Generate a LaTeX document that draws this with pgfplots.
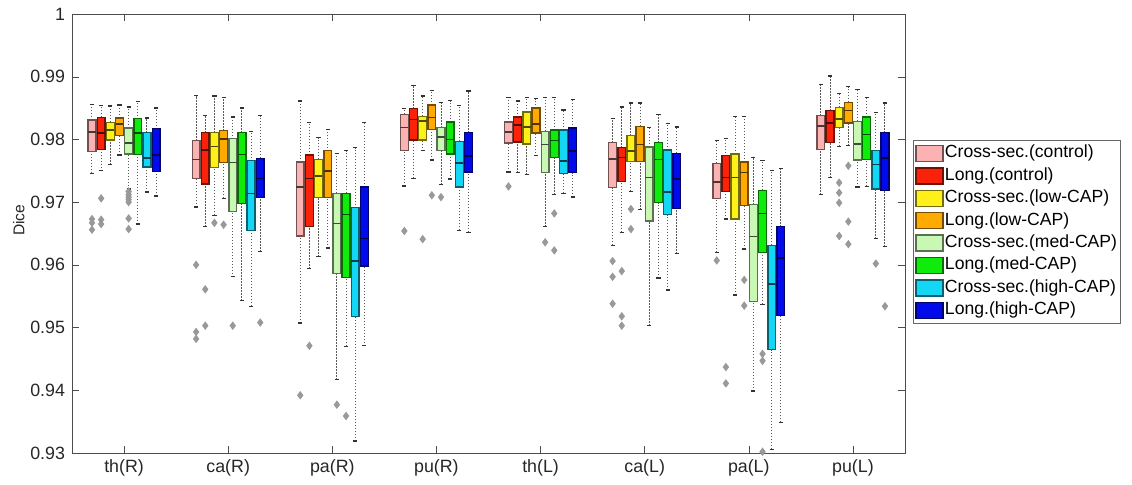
\documentclass[border=0pt]{standalone}
\usepackage{fontspec}
\setmainfont{Liberation Sans}
\usepackage{pgfplots}
\pgfplotsset{compat=1.18}

\definecolor{cA}{RGB}{250,178,178}
\definecolor{cB}{RGB}{250,35,10}
\definecolor{cC}{RGB}{255,240,25}
\definecolor{cD}{RGB}{255,170,0}
\definecolor{cE}{RGB}{200,248,180}
\definecolor{cF}{RGB}{15,235,10}
\definecolor{cG}{RGB}{20,215,245}
\definecolor{cH}{RGB}{0,10,235}

\pgfplotsset{
  wsk/.style={black!65, dash pattern=on 0.6pt off 0.9pt, line width=0.5pt, forget plot},
  cap/.style={black!80, line width=0.7pt, forget plot},
  outl/.style={only marks, mark=diamond*, mark size=1.8pt,
    mark options={draw=black!40, fill=black!40}, forget plot},
}

% position, colour, lower whisker, Q1, median, Q3, upper whisker
\newcommand{\bx}[7]{%
  \pgfmathsetmacro\xa{#1-0.0375}\pgfmathsetmacro\xb{#1+0.0375}%
  \pgfmathsetmacro\ca{#1-0.02}\pgfmathsetmacro\cb{#1+0.02}%
  \addplot[wsk] coordinates {(#1,#3) (#1,#4)};
  \addplot[wsk] coordinates {(#1,#6) (#1,#7)};
  \addplot[cap] coordinates {(\ca,#3) (\cb,#3)};
  \addplot[cap] coordinates {(\ca,#7) (\cb,#7)};
  \addplot[forget plot, draw=#2!45!black, fill=#2, line width=0.7pt]
    coordinates {(\xa,#4) (\xb,#4) (\xb,#6) (\xa,#6)} -- cycle;
  \addplot[forget plot, draw=#2!30!black, line width=0.8pt]
    coordinates {(\xa,#5) (\xb,#5)};
}

\begin{document}
\begin{tikzpicture}
\begin{axis}[
  scale only axis,
  width=416.5pt, height=219.5pt,
  xmin=0.5, xmax=8.5, ymin=0.93, ymax=1,
  xtick={1,2,3,4,5,6,7,8},
  xticklabels={th(R),ca(R),pa(R),pu(R),th(L),ca(L),pa(L),pu(L)},
  ytick={0.93,0.94,0.95,0.96,0.97,0.98,0.99,1},
  yticklabels={0.93,0.94,0.95,0.96,0.97,0.98,0.99,1},
  tick label style={font=\fontsize{8.9}{10.5}\selectfont, black!85},
  ylabel={Dice},
  ylabel style={at={(axis description cs:-0.064,0.53)}, anchor=center,
    font=\fontsize{7.8}{9}\selectfont, black!85},
  tick align=inside, major tick length=3.5pt,
  axis line style={black!70}, tick style={black!70},
  legend image code/.code={\draw[#1] (0pt,-4pt) rectangle (13.5pt,4pt);},
  legend style={at={(axis description cs:1.0096,0.713)}, anchor=north west,
    draw=black!60, font=\fontsize{8.8}{10.5}\selectfont,
    inner sep=1pt, row sep=0pt,
    nodes={inner xsep=0.6pt, inner ysep=1.2pt, text height=6.6pt, text depth=2.2pt}},
  legend cell align=left,
]
\addlegendimage{fill=cA, draw=cA!45!black, line width=0.7pt}
\addlegendentry{Cross-sec.(control)}
\addlegendimage{fill=cB, draw=cB!45!black, line width=0.7pt}
\addlegendentry{Long.(control)}
\addlegendimage{fill=cC, draw=cC!45!black, line width=0.7pt}
\addlegendentry{Cross-sec.(low-CAP)}
\addlegendimage{fill=cD, draw=cD!45!black, line width=0.7pt}
\addlegendentry{Long.(low-CAP)}
\addlegendimage{fill=cE, draw=cE!45!black, line width=0.7pt}
\addlegendentry{Cross-sec.(med-CAP)}
\addlegendimage{fill=cF, draw=cF!45!black, line width=0.7pt}
\addlegendentry{Long.(med-CAP)}
\addlegendimage{fill=cG, draw=cG!45!black, line width=0.7pt}
\addlegendentry{Cross-sec.(high-CAP)}
\addlegendimage{fill=cH, draw=cH!45!black, line width=0.7pt}
\addlegendentry{Long.(high-CAP)}

% th(R)
\bx{0.692}{cA}{0.9746}{0.9781}{0.9812}{0.9831}{0.9856}
\bx{0.780}{cB}{0.9750}{0.9784}{0.9810}{0.9835}{0.9854}
\bx{0.868}{cC}{0.9760}{0.9799}{0.9815}{0.9827}{0.9853}
\bx{0.956}{cD}{0.9775}{0.9806}{0.9825}{0.9834}{0.9855}
\bx{1.044}{cE}{0.9721}{0.9777}{0.9794}{0.9818}{0.9852}
\bx{1.132}{cF}{0.9665}{0.9776}{0.9810}{0.9833}{0.9860}
\bx{1.220}{cG}{0.9716}{0.9756}{0.9770}{0.9811}{0.9834}
\bx{1.308}{cH}{0.9710}{0.9749}{0.9775}{0.9817}{0.9850}
\addplot[outl] coordinates {(0.692,0.9673) (0.692,0.9667) (0.692,0.9656)
  (0.780,0.9706) (0.780,0.9672) (0.780,0.9665)
  (1.044,0.9717) (1.044,0.9712) (1.044,0.9708) (1.044,0.9704) (1.044,0.9700)
  (1.044,0.9674) (1.044,0.9657)};
% ca(R)
\bx{1.692}{cA}{0.9692}{0.9738}{0.9768}{0.9798}{0.9870}
\bx{1.780}{cB}{0.9661}{0.9729}{0.9783}{0.9811}{0.9838}
\bx{1.868}{cC}{0.9679}{0.9755}{0.9789}{0.9811}{0.9869}
\bx{1.956}{cD}{0.9706}{0.9763}{0.9801}{0.9814}{0.9867}
\bx{2.044}{cE}{0.9581}{0.9685}{0.9763}{0.9801}{0.9836}
\bx{2.132}{cF}{0.9543}{0.9698}{0.9776}{0.9811}{0.9850}
\bx{2.220}{cG}{0.9534}{0.9655}{0.9714}{0.9766}{0.9813}
\bx{2.308}{cH}{0.9621}{0.9707}{0.9738}{0.9770}{0.9838}
\addplot[outl] coordinates {(1.692,0.9600) (1.692,0.9493) (1.692,0.9482)
  (1.780,0.9561) (1.780,0.9503) (1.868,0.9667) (1.956,0.9664)
  (2.044,0.9503) (2.308,0.9508)};
% pa(R)
\bx{2.692}{cA}{0.9507}{0.9646}{0.9724}{0.9764}{0.9861}
\bx{2.780}{cB}{0.9594}{0.9661}{0.9738}{0.9775}{0.9827}
\bx{2.868}{cC}{0.9613}{0.9707}{0.9742}{0.9768}{0.9803}
\bx{2.956}{cD}{0.9627}{0.9707}{0.9750}{0.9782}{0.9816}
\bx{3.044}{cE}{0.9417}{0.9586}{0.9666}{0.9714}{0.9778}
\bx{3.132}{cF}{0.9470}{0.9580}{0.9680}{0.9714}{0.9782}
\bx{3.220}{cG}{0.9319}{0.9518}{0.9606}{0.9691}{0.9787}
\bx{3.308}{cH}{0.9471}{0.9598}{0.9642}{0.9724}{0.9827}
\addplot[outl] coordinates {(2.692,0.9392) (2.780,0.9471) (3.044,0.9377) (3.132,0.9359)};
% pu(R)
\bx{3.692}{cA}{0.9726}{0.9782}{0.9819}{0.9840}{0.9849}
\bx{3.780}{cB}{0.9738}{0.9799}{0.9832}{0.9849}{0.9886}
\bx{3.868}{cC}{0.9782}{0.9799}{0.9829}{0.9837}{0.9869}
\bx{3.956}{cD}{0.9767}{0.9816}{0.9835}{0.9855}{0.9878}
\bx{4.044}{cE}{0.9728}{0.9782}{0.9804}{0.9819}{0.9859}
\bx{4.132}{cF}{0.9737}{0.9777}{0.9800}{0.9828}{0.9862}
\bx{4.220}{cG}{0.9655}{0.9724}{0.9762}{0.9797}{0.9854}
\bx{4.308}{cH}{0.9652}{0.9748}{0.9774}{0.9811}{0.9877}
\addplot[outl] coordinates {(3.692,0.9654) (3.868,0.9641) (3.956,0.9711) (4.044,0.9708)};
% th(L)
\bx{4.692}{cA}{0.9748}{0.9794}{0.9812}{0.9828}{0.9867}
\bx{4.780}{cB}{0.9747}{0.9796}{0.9823}{0.9836}{0.9861}
\bx{4.868}{cC}{0.9744}{0.9793}{0.9820}{0.9844}{0.9867}
\bx{4.956}{cD}{0.9774}{0.9810}{0.9825}{0.9850}{0.9865}
\bx{5.044}{cE}{0.9661}{0.9747}{0.9792}{0.9813}{0.9867}
\bx{5.132}{cF}{0.9712}{0.9771}{0.9798}{0.9815}{0.9867}
\bx{5.220}{cG}{0.9714}{0.9746}{0.9766}{0.9815}{0.9847}
\bx{5.308}{cH}{0.9708}{0.9747}{0.9782}{0.9818}{0.9864}
\addplot[outl] coordinates {(4.692,0.9725) (5.044,0.9636) (5.132,0.9682) (5.132,0.9623)};
% ca(L)
\bx{5.692}{cA}{0.9631}{0.9723}{0.9769}{0.9795}{0.9833}
\bx{5.780}{cB}{0.9652}{0.9733}{0.9771}{0.9787}{0.9852}
\bx{5.868}{cC}{0.9717}{0.9765}{0.9782}{0.9806}{0.9858}
\bx{5.956}{cD}{0.9688}{0.9765}{0.9792}{0.9821}{0.9858}
\bx{6.044}{cE}{0.9503}{0.9670}{0.9739}{0.9788}{0.9819}
\bx{6.132}{cF}{0.9579}{0.9699}{0.9768}{0.9795}{0.9840}
\bx{6.220}{cG}{0.9560}{0.9680}{0.9716}{0.9783}{0.9825}
\bx{6.308}{cH}{0.9618}{0.9690}{0.9737}{0.9778}{0.9820}
\addplot[outl] coordinates {(5.692,0.9606) (5.692,0.9581) (5.692,0.9538)
  (5.780,0.9590) (5.780,0.9518) (5.780,0.9503) (5.868,0.9689) (5.868,0.9657)};
% pa(L)
\bx{6.692}{cA}{0.9620}{0.9706}{0.9732}{0.9762}{0.9798}
\bx{6.780}{cB}{0.9673}{0.9717}{0.9739}{0.9774}{0.9801}
\bx{6.868}{cC}{0.9552}{0.9673}{0.9739}{0.9777}{0.9837}
\bx{6.956}{cD}{0.9625}{0.9695}{0.9747}{0.9764}{0.9837}
\bx{7.044}{cE}{0.9399}{0.9542}{0.9645}{0.9696}{0.9771}
\bx{7.132}{cF}{0.9537}{0.9620}{0.9682}{0.9719}{0.9766}
\bx{7.220}{cG}{0.9306}{0.9465}{0.9569}{0.9631}{0.9750}
\bx{7.308}{cH}{0.9349}{0.9519}{0.9611}{0.9661}{0.9754}
\addplot[outl] coordinates {(6.692,0.9607) (6.780,0.9437) (6.780,0.9411)
  (6.956,0.9576) (6.956,0.9535) (7.132,0.9458) (7.132,0.9447) (7.132,0.9302)};
% pu(L)
\bx{7.692}{cA}{0.9712}{0.9784}{0.9821}{0.9838}{0.9888}
\bx{7.780}{cB}{0.9739}{0.9795}{0.9826}{0.9846}{0.9901}
\bx{7.868}{cC}{0.9789}{0.9819}{0.9833}{0.9851}{0.9873}
\bx{7.956}{cD}{0.9790}{0.9826}{0.9846}{0.9859}{0.9884}
\bx{8.044}{cE}{0.9724}{0.9767}{0.9793}{0.9829}{0.9880}
\bx{8.132}{cF}{0.9725}{0.9768}{0.9808}{0.9836}{0.9867}
\bx{8.220}{cG}{0.9642}{0.9721}{0.9760}{0.9782}{0.9843}
\bx{8.308}{cH}{0.9629}{0.9719}{0.9770}{0.9811}{0.9858}
\addplot[outl] coordinates {(7.868,0.9731) (7.868,0.9715) (7.868,0.9699) (7.868,0.9646)
  (7.956,0.9758) (7.956,0.9669) (7.956,0.9633) (8.220,0.9602) (8.308,0.9534)};
\end{axis}
\pgfresetboundingbox
\path (current axis.south west) ++(-36pt,-16pt) rectangle ++(566pt,242.5pt);
\end{tikzpicture}
\end{document}
